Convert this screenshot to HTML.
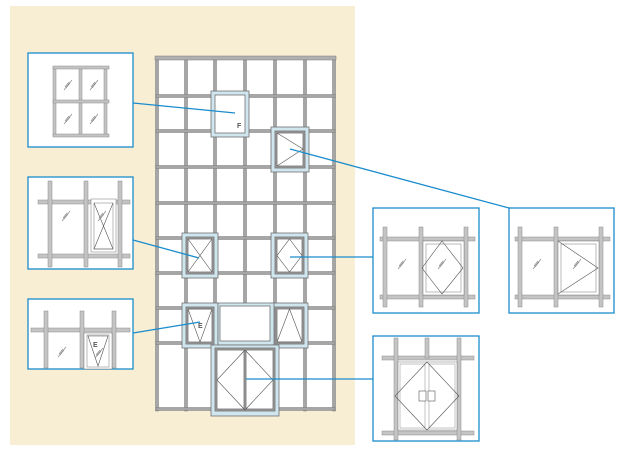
<!DOCTYPE html>
<html><head><meta charset="utf-8"><style>
html,body{margin:0;padding:0;background:#fff;}
svg{display:block;font-family:"Liberation Sans",sans-serif;}
</style></head><body>
<svg width="625" height="450" viewBox="0 0 625 450" xmlns="http://www.w3.org/2000/svg">
<rect x="0" y="0" width="625" height="450" fill="#fff"/>
<rect x="10" y="6" width="345" height="439" fill="#f8eed4"/>

<rect x="156" y="60" width="179" height="351" fill="#fff"/>
<g fill="#a6a6a6" stroke="#7a7a7a" stroke-width="0.5">
 <rect x="155" y="56" width="181" height="4" fill="#b0b0b0"/>
 <rect x="155.5" y="60" width="3" height="351"/>
 <rect x="184.5" y="60" width="3" height="351"/>
 <rect x="213.5" y="60" width="3" height="351"/>
 <rect x="243.5" y="60" width="3" height="351"/>
 <rect x="273.5" y="60" width="3" height="351"/>
 <rect x="303.5" y="60" width="3" height="351"/>
 <rect x="332.5" y="60" width="3" height="351"/>
 <rect x="156" y="94.5" width="179" height="3"/>
 <rect x="156" y="129.5" width="179" height="3"/>
 <rect x="156" y="165.5" width="179" height="3"/>
 <rect x="156" y="201.5" width="179" height="3"/>
 <rect x="156" y="236.5" width="179" height="3"/>
 <rect x="156" y="271.5" width="179" height="3"/>
 <rect x="156" y="306.5" width="179" height="3"/>
 <rect x="156" y="341.5" width="179" height="3"/>
 <rect x="156" y="407.5" width="179" height="3"/>
</g>

<g stroke="#707070" stroke-width="0.8">
 <rect x="211" y="91" width="38" height="46" fill="#cfe6ee"/>
 <rect x="215" y="95" width="30" height="38" fill="#fff"/>
 <rect x="271" y="127" width="38" height="45" fill="#cfe6ee"/>
 <rect x="275" y="131" width="30" height="37" fill="#a0a0a0"/>
 <rect x="277" y="133" width="26" height="33" fill="#fff"/>
 <rect x="182" y="233" width="36" height="45" fill="#cfe6ee"/>
 <rect x="186" y="237" width="28" height="37" fill="#a0a0a0"/>
 <rect x="188" y="239" width="24" height="33" fill="#fff"/>
 <rect x="271" y="233" width="37" height="45" fill="#cfe6ee"/>
 <rect x="275" y="237" width="29" height="37" fill="#a0a0a0"/>
 <rect x="277" y="239" width="25" height="33" fill="#fff"/>
 <rect x="182" y="303" width="36" height="45" fill="#cfe6ee"/>
 <rect x="186" y="307" width="28" height="37" fill="#a0a0a0"/>
 <rect x="188" y="309" width="24" height="33" fill="#fff"/>
 <rect x="271" y="303" width="37" height="45" fill="#cfe6ee"/>
 <rect x="275" y="307" width="29" height="37" fill="#a0a0a0"/>
 <rect x="277" y="309" width="25" height="33" fill="#fff"/>
 <path d="M218 303 H274 V345 H218 Z" fill="#cfe6ee"/>
 <rect x="220" y="306" width="50" height="35" fill="#fff"/>
 <rect x="211" y="345" width="68" height="71" fill="#cfe6ee"/>
 <rect x="215" y="348" width="60" height="63" fill="#a0a0a0"/>
 <rect x="217" y="350" width="27" height="59" fill="#fff"/>
 <rect x="246" y="350" width="27" height="59" fill="#fff"/>
</g>
<g stroke="#555" stroke-width="0.6" fill="none">
 <path d="M277 133 L303 149 L277 166"/>
 <path d="M188 239 L212 272 M212 239 L188 272"/>
 <path d="M289.5 239 L302 255.5 L289.5 272 L277 255.5 Z"/>
 <path d="M188 309 L212 309 L200 342 Z"/>
 <path d="M277 342 L302 342 L289.5 309 Z"/>
 <path d="M245 350 L273 380 L245 410 L217 380 Z"/>
</g>
<text x="237" y="128" font-size="7" fill="#555" font-weight="bold">F</text>
<text x="198" y="328" font-size="7" fill="#555" font-weight="bold">E</text>

<g stroke="#1a8ccc" stroke-width="1.3">
 <line x1="133" y1="103" x2="235" y2="113"/>
 <line x1="290" y1="149" x2="509" y2="208"/>
 <line x1="133" y1="240" x2="199" y2="258"/>
 <line x1="290" y1="257" x2="373" y2="257"/>
 <line x1="133" y1="333" x2="200" y2="322"/>
 <line x1="246" y1="379" x2="373" y2="379"/>
</g>

<g fill="#fff" stroke="#1a8ccc" stroke-width="1.3">
 <rect x="28" y="53" width="105" height="94"/>
 <rect x="28" y="177" width="105" height="92"/>
 <rect x="28" y="299" width="105" height="70"/>
 <rect x="373" y="208" width="106" height="105"/>
 <rect x="509" y="208" width="105" height="105"/>
 <rect x="373" y="336" width="106" height="105"/>
</g>

<defs>
 <g id="hatch" stroke="#888" stroke-width="0.7" fill="none">
  <path d="M-4 5 L4 -5 M-2 3 L2 -2 M-3 2 L1 -3"/>
 </g>
</defs>

<g fill="#c4c4c4" stroke="#8a8a8a" stroke-width="0.5">
 <rect x="53" y="67" width="3" height="69"/>
 <rect x="79" y="67" width="3" height="69"/>
 <rect x="104" y="67" width="3" height="69"/>
 <rect x="53" y="66" width="56" height="3"/>
 <rect x="53" y="100" width="56" height="3"/>
 <rect x="53" y="134" width="56" height="3"/>
</g>
<use href="#hatch" x="68" y="85"/><use href="#hatch" x="94" y="85"/>
<use href="#hatch" x="68" y="119"/><use href="#hatch" x="94" y="119"/>

<g fill="#c4c4c4" stroke="#8a8a8a" stroke-width="0.5">
 <rect x="38" y="200" width="92" height="4"/>
 <rect x="38" y="254" width="92" height="4"/>
 <rect x="48" y="181" width="4" height="86"/>
 <rect x="84" y="181" width="4" height="86"/>
 <rect x="118" y="181" width="4" height="86"/>
 <rect x="91" y="199" width="25" height="53" fill="#fff" stroke="#777"/>
 <rect x="94" y="203" width="19" height="46" fill="#fff" stroke="#777"/>
</g>
<path d="M113 203 L94 249 L113 249 L94 203" stroke="#555" stroke-width="0.6" fill="none"/>
<use href="#hatch" x="66" y="216"/><use href="#hatch" x="102" y="216"/>

<g fill="#c4c4c4" stroke="#8a8a8a" stroke-width="0.5">
 <rect x="31" y="328" width="99" height="4"/>
 <rect x="44" y="311" width="4" height="57"/>
 <rect x="80" y="311" width="4" height="57"/>
 <rect x="112" y="311" width="4" height="57"/>
 <rect x="84" y="333" width="28" height="36" fill="#fff" stroke="#777"/>
 <rect x="87" y="335" width="22" height="32" fill="#fff" stroke="#777"/>
</g>
<path d="M88 336 L108 336 L98 366 Z" stroke="#555" stroke-width="0.6" fill="none"/>
<text x="93" y="347" font-size="7" fill="#555" font-weight="bold">E</text>
<use href="#hatch" x="62" y="352"/><use href="#hatch" x="99" y="353"/>

<g fill="#c4c4c4" stroke="#8a8a8a" stroke-width="0.5">
 <rect x="380" y="237" width="95" height="4"/>
 <rect x="380" y="295" width="95" height="4"/>
 <rect x="383" y="227" width="4" height="80"/>
 <rect x="419" y="227" width="4" height="80"/>
 <rect x="464" y="227" width="4" height="80"/>
 <rect x="423" y="241" width="41" height="54" fill="#fff" stroke="#777"/>
 <rect x="426" y="244" width="35" height="48" fill="#fff" stroke="#777"/>
</g>
<path d="M442 241 L463 268 L442 294 L422 268 Z" stroke="#555" stroke-width="0.6" fill="none"/>
<use href="#hatch" x="402" y="264"/><use href="#hatch" x="442" y="264"/>

<g fill="#c4c4c4" stroke="#8a8a8a" stroke-width="0.5">
 <rect x="515" y="237" width="95" height="4"/>
 <rect x="515" y="295" width="95" height="4"/>
 <rect x="518" y="227" width="4" height="80"/>
 <rect x="554" y="227" width="4" height="80"/>
 <rect x="599" y="227" width="4" height="80"/>
 <rect x="558" y="241" width="41" height="54" fill="#fff" stroke="#777"/>
 <rect x="561" y="244" width="35" height="48" fill="#fff" stroke="#777"/>
</g>
<path d="M558 241 L598 268 L558 294" stroke="#555" stroke-width="0.6" fill="none"/>
<use href="#hatch" x="537" y="264"/><use href="#hatch" x="577" y="264"/>

<g fill="#c4c4c4" stroke="#8a8a8a" stroke-width="0.5">
 <rect x="382" y="356" width="92" height="4"/>
 <rect x="382" y="431" width="92" height="4"/>
 <rect x="394" y="338" width="4" height="102"/>
 <rect x="425" y="338" width="4" height="20"/>
 <rect x="457" y="338" width="4" height="102"/>
 <rect x="398" y="362" width="59" height="68" fill="#fff" stroke="#777"/>
 <rect x="400" y="364" width="25" height="64" fill="#fff" stroke="#888"/>
 <rect x="429" y="364" width="26" height="64" fill="#fff" stroke="#888"/>
</g>
<path d="M427 362 L459 396 L427 430 L395 396 Z" stroke="#555" stroke-width="0.6" fill="none"/>
<rect x="419" y="391" width="7" height="10" fill="#fff" stroke="#555" stroke-width="0.6"/>
<rect x="428" y="391" width="7" height="10" fill="#fff" stroke="#555" stroke-width="0.6"/>
</svg>
</body></html>
